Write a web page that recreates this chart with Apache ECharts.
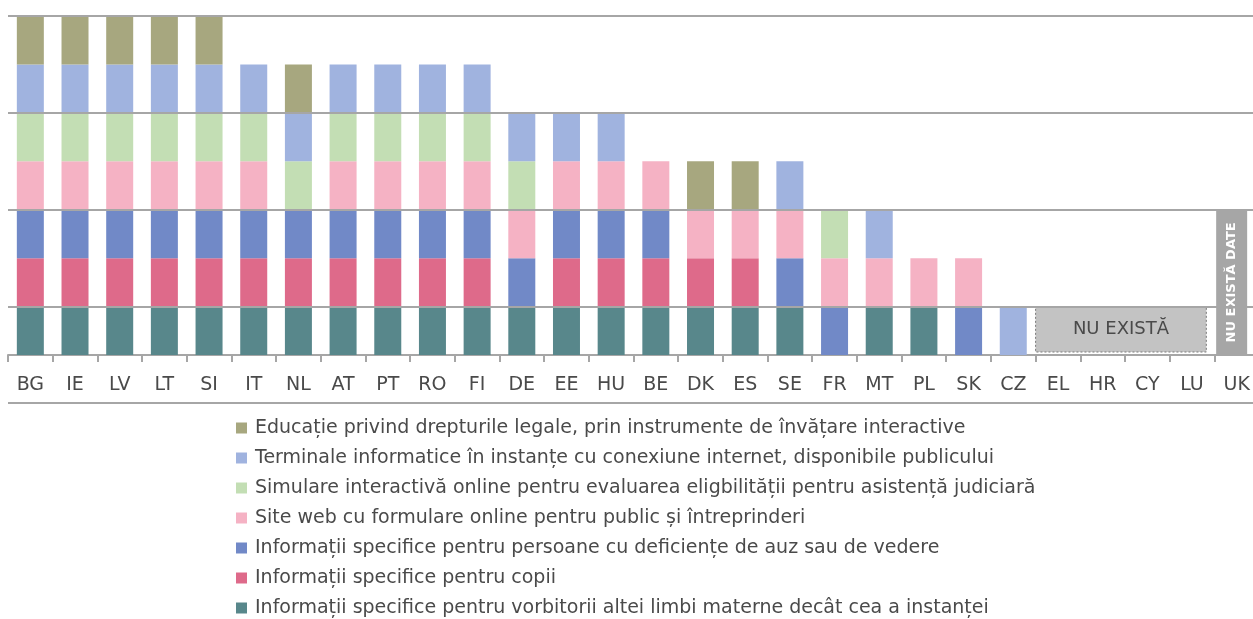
<!DOCTYPE html>
<html>
<head>
<meta charset="utf-8">
<script src="https://cdn.jsdelivr.net/npm/echarts@6/dist/echarts.min.js"></script>
<style>
  html, body { margin: 0; padding: 0; background: #fff; }
  #main { width: 1253px; height: 619px; }
</style>
</head>
<body>
<div id="main"></div>
<script>
var countries = ['BG','IE','LV','LT','SI','IT','NL','AT','PT','RO','FI','DE','EE','HU','BE','DK','ES','SE','FR','MT','PL','SK','CZ','EL','HR','CY','LU','UK'];

// 1 = exists, 0 = not
var vorbitorii = [1,1,1,1,1,1,1,1,1,1,1,1,1,1,1,1,1,1,0,1,1,0,0,0,0,0,0,0];
var copii      = [1,1,1,1,1,1,1,1,1,1,1,0,1,1,1,1,1,0,0,0,0,0,0,0,0,0,0,0];
var deficiente = [1,1,1,1,1,1,1,1,1,1,1,1,1,1,1,0,0,1,1,0,0,1,0,0,0,0,0,0];
var siteWeb    = [1,1,1,1,1,1,0,1,1,1,1,1,1,1,1,1,1,1,1,1,1,1,0,0,0,0,0,0];
var simulare   = [1,1,1,1,1,1,1,1,1,1,1,1,0,0,0,0,0,0,1,0,0,0,0,0,0,0,0,0];
var terminale  = [1,1,1,1,1,1,1,1,1,1,1,1,1,1,0,0,0,1,0,1,0,0,1,0,0,0,0,0];
var educatie   = [1,1,1,1,1,0,1,0,0,0,0,0,0,0,0,1,1,0,0,0,0,0,0,0,0,0,0,0];
var ukNoData   = [0,0,0,0,0,0,0,0,0,0,0,0,0,0,0,0,0,0,0,0,0,0,0,0,0,0,0,3];

var gridValues = [1, 3, 5, 7];
var noneLabel = 'NU EXISTĂ';
var noneCats = ['EL', 'LU'];

var names = {
  edu: 'Educație privind drepturile legale, prin instrumente de învățare interactive',
  term: 'Terminale informatice în instanțe cu conexiune internet, disponibile publicului',
  sim: 'Simulare interactivă online pentru evaluarea eligbilității pentru asistență judiciară',
  site: 'Site web cu formulare online pentru public și întreprinderi',
  def: 'Informații specifice pentru persoane cu deficiențe de auz sau de vedere',
  cop: 'Informații specifice pentru copii',
  vorb: 'Informații specifice pentru vorbitorii altei limbi materne decât cea a instanței'
};

function clean(arr) {
  return arr.map(function (v) { return v ? v : '-'; });
}

var font = 'DejaVu Sans';
var myChart = echarts.init(document.getElementById('main'));

function barSeries(name, data, color, extra) {
  var s = {
    name: name,
    type: 'bar',
    stack: 'total',
    barWidth: 27,
    data: clean(data),
    itemStyle: { color: color },
    emphasis: { disabled: true }
  };
  if (extra) { for (var k in extra) s[k] = extra[k]; }
  return s;
}

var option = {
  animation: false,
  grid: [
    { left: 8, width: 1251, top: 16, bottom: 264, outerBoundsMode: 'none', containLabel: false },
    // same scale, nudged a little left for the UK "no data" column
    { left: 3, width: 1251, top: 16, bottom: 264, outerBoundsMode: 'none', containLabel: false }
  ],
  legend: {
    orient: 'vertical',
    left: 236,
    top: 418,
    height: 240,
    padding: 0,
    itemWidth: 11,
    itemHeight: 11,
    itemGap: 10,
    icon: 'rect',
    textStyle: { fontFamily: font, fontSize: 19, color: '#4a4a4a', lineHeight: 20, padding: [0, 0, 0, 3] },
    data: [names.edu, names.term, names.sim, names.site, names.def, names.cop, names.vorb]
  },
  xAxis: [{
    type: 'category',
    data: countries,
    axisLine: { lineStyle: { color: '#a6a6a6', width: 2 } },
    axisTick: { show: true, length: 7, lineStyle: { color: '#a6a6a6', width: 2 } },
    axisLabel: { fontFamily: font, fontSize: 19, color: '#4a4a4a', margin: 21, interval: 0 }
  }, {
    type: 'category',
    gridIndex: 1,
    data: countries,
    show: false
  }],
  yAxis: [{
    type: 'value',
    min: 0,
    max: 7,
    show: false,
    splitLine: { show: false }
  }, {
    type: 'value',
    gridIndex: 1,
    min: 0,
    max: 7,
    show: false,
    splitLine: { show: false }
  }],
  series: [
    barSeries(names.vorb, vorbitorii, '#58878b', {
      markLine: {
        silent: true,
        symbol: 'none',
        label: { show: false },
        lineStyle: { color: '#a6a6a6', width: 2, type: 'solid' },
        data: gridValues.map(function (v) { return { yAxis: v }; })
      }
    }),
    barSeries(names.cop, copii, '#de6a8a'),
    barSeries(names.def, deficiente, '#7189c7'),
    barSeries(names.site, siteWeb, '#f5b2c4'),
    barSeries(names.sim, simulare, '#c3deb4'),
    barSeries(names.term, terminale, '#a0b3df'),
    barSeries(names.edu, educatie, '#a7a77f'),
    {
      name: 'NU EXISTĂ DATE',
      type: 'bar',
      xAxisIndex: 1,
      yAxisIndex: 1,
      barWidth: 31,
      data: clean(ukNoData),
      itemStyle: { color: '#a6a6a6' },
      emphasis: { disabled: true },
      label: {
        show: true,
        position: 'inside',
        rotate: 90,
        formatter: 'NU EXISTĂ DATE',
        fontFamily: font,
        fontSize: 13,
        fontWeight: 'bold',
        color: '#ffffff'
      }
    }
  ]
};
myChart.setOption(option);

// "NU EXISTĂ" box across the countries without any data
var pA = myChart.convertToPixel({ xAxisIndex: 0, yAxisIndex: 0 }, [noneCats[0], 1]);
var pB = myChart.convertToPixel({ xAxisIndex: 0, yAxisIndex: 0 }, [noneCats[1], 0]);
var pNext = myChart.convertToPixel({ xAxisIndex: 0, yAxisIndex: 0 }, [countries[countries.indexOf(noneCats[0]) + 1], 0]);
var bw = pNext[0] - pA[0];
var x0 = pA[0] - bw / 2;
var x1 = pB[0] + bw / 2 - 8;
var axisY = pB[1];

myChart.setOption({
  graphic: [
    {
      type: 'rect',
      shape: { x: x0, y: pA[1], width: x1 - x0, height: axisY - pA[1] - 3 },
      style: { fill: '#c3c3c3', stroke: '#7a7a7a', lineWidth: 1, lineDash: [2, 2] },
      silent: true
    },
    {
      type: 'text',
      x: (x0 + x1) / 2,
      y: (pA[1] + axisY - 3) / 2,
      style: {
        text: noneLabel,
        fontFamily: font,
        fontSize: 18,
        fill: '#4a4a4a',
        align: 'center',
        verticalAlign: 'middle'
      },
      silent: true
    },
    {
      type: 'line',
      shape: { x1: 8, y1: 403, x2: 1253, y2: 403 },
      style: { stroke: '#a6a6a6', lineWidth: 2 },
      silent: true
    }
  ]
});
</script>
</body>
</html>
